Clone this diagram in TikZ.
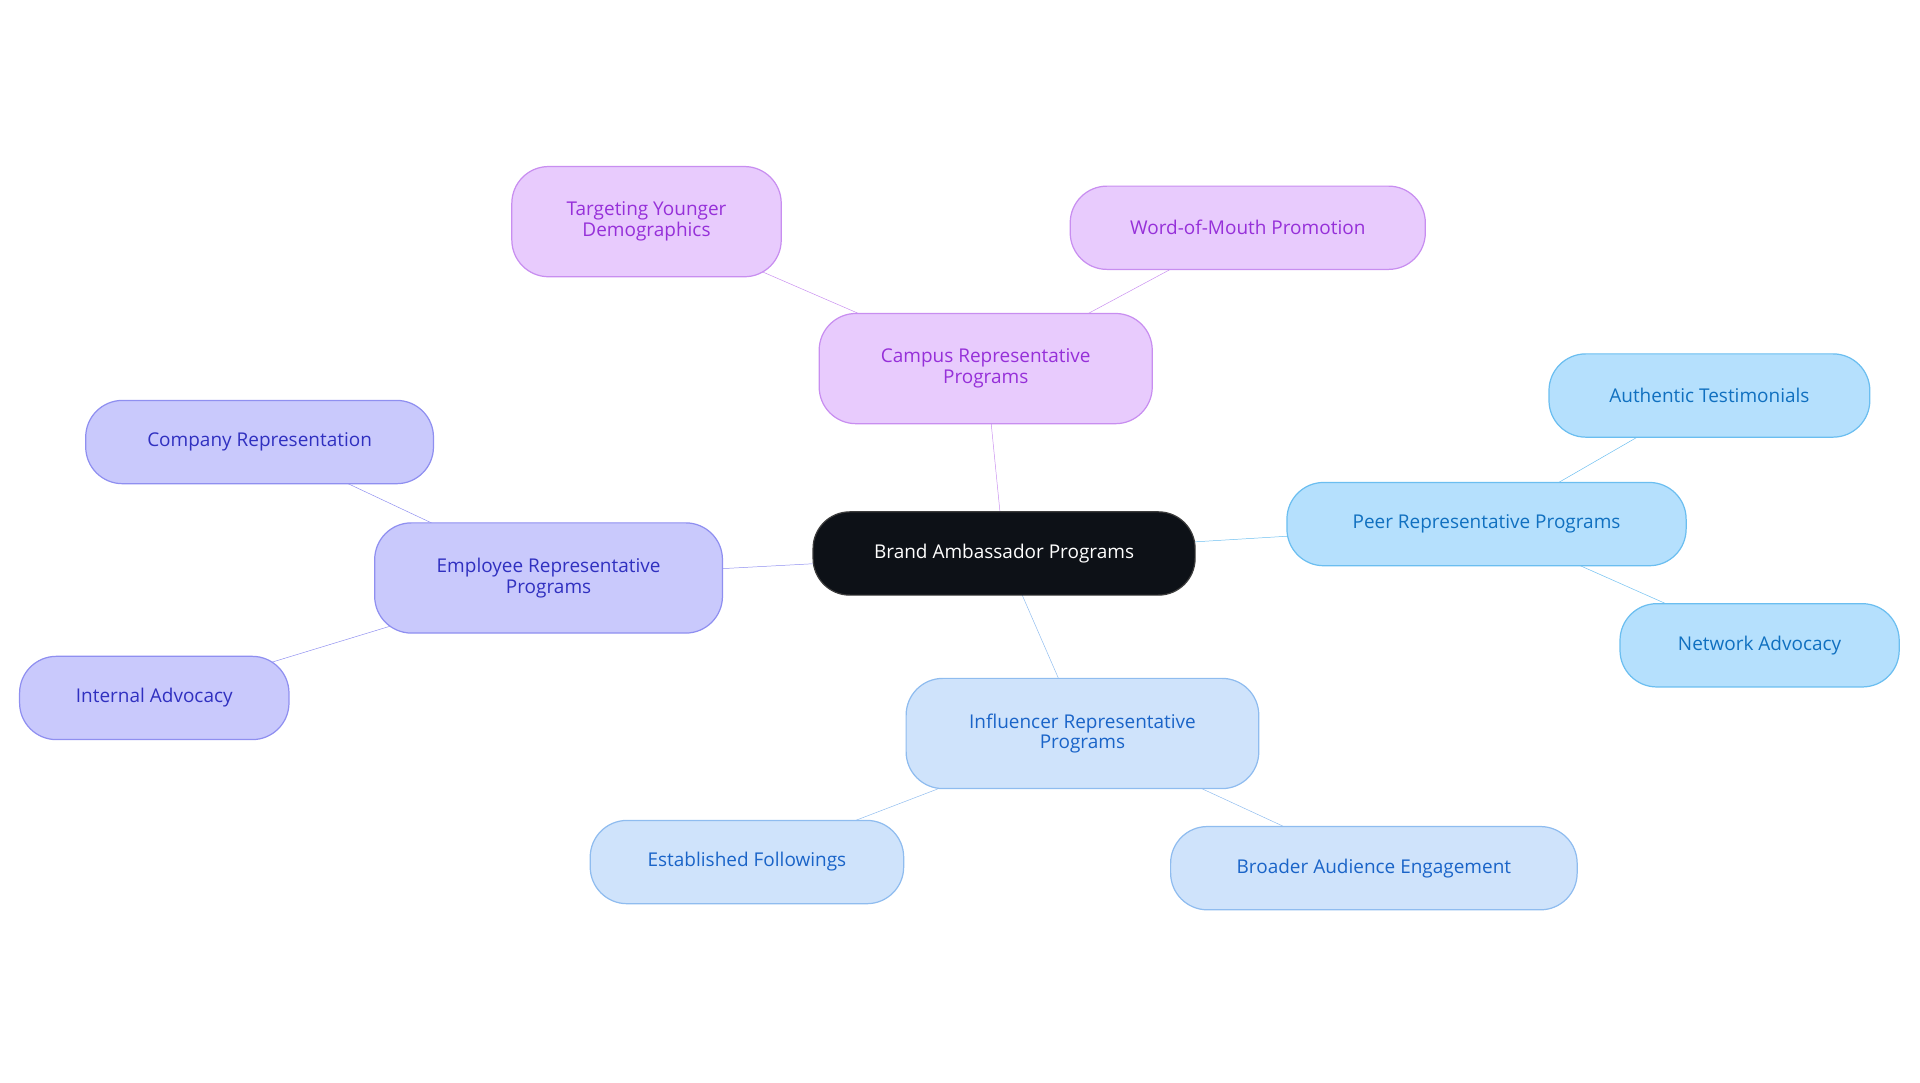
\documentclass[tikz,border=0pt]{standalone}
\usepackage{fontspec}
\setmainfont{Open Sans}
\usetikzlibrary{backgrounds}
\definecolor{pf}{RGB}{232,203,253}\definecolor{pd}{RGB}{200,142,240}\definecolor{pt}{RGB}{150,48,217}
\definecolor{sf}{RGB}{181,224,253}\definecolor{sd}{RGB}{107,190,240}\definecolor{st}{RGB}{16,112,192}
\definecolor{lf}{RGB}{207,227,251}\definecolor{ld}{RGB}{143,188,239}\definecolor{lt}{RGB}{26,100,200}
\definecolor{if}{RGB}{201,201,252}\definecolor{id}{RGB}{143,143,240}\definecolor{it}{RGB}{48,48,192}
\definecolor{cf}{RGB}{13,17,23}\definecolor{cd}{RGB}{60,60,60}
\begin{document}
\begin{tikzpicture}[x=1pt,y=-1pt,
 box/.style={rounded corners=30pt,line width=1pt,align=center,font=\fontsize{15.5}{17}\selectfont,inner sep=0pt},
 pur/.style={box,fill=pf,draw=pd,text=pt},
 sky/.style={box,fill=sf,draw=sd,text=st},
 lbl/.style={box,fill=lf,draw=ld,text=lt},
 ind/.style={box,fill=if,draw=id,text=it},
 e/.style={line width=2.5pt}]
\useasboundingbox (0,0) rectangle (1568,884);
\node[box,fill=cf,draw=cd,text=white,minimum width=312pt,minimum height=68pt] (c) at (820,452) {Brand Ambassador Programs};
\node[pur,minimum width=272pt,minimum height=90pt] (cam) at (805,301) {Campus Representative\\Programs};
\node[pur,minimum width=220pt,minimum height=90pt] (ty) at (528,181) {Targeting Younger\\Demographics};
\node[pur,minimum width=290pt,minimum height=68pt] (wm) at (1019,186) {Word-of-Mouth Promotion};
\node[sky,minimum width=326pt,minimum height=68pt] (peer) at (1214,428) {Peer Representative Programs};
\node[sky,minimum width=262pt,minimum height=68pt] (at) at (1396,323) {Authentic Testimonials};
\node[sky,minimum width=228pt,minimum height=68pt] (na) at (1437,527) {Network Advocacy};
\node[lbl,minimum width=288pt,minimum height=90pt] (inf) at (884,599) {Influencer Representative\\Programs};
\node[lbl,minimum width=256pt,minimum height=68pt] (ef) at (610,704) {Established Followings};
\node[lbl,minimum width=332pt,minimum height=68pt] (ba) at (1122,709) {Broader Audience Engagement};
\node[ind,minimum width=284pt,minimum height=90pt] (emp) at (448,472) {Employee Representative\\Programs};
\node[ind,minimum width=284pt,minimum height=68pt] (cr) at (212,361) {Company Representation};
\node[ind,minimum width=220pt,minimum height=68pt] (ia) at (126,570) {Internal Advocacy};
\begin{scope}[on background layer,e]
\draw[draw=pd] (c.center) -- (cam.center) (cam.center) -- (ty.center) (cam.center) -- (wm.center);
\draw[draw=sd] (c.center) -- (peer.center) (peer.center) -- (at.center) (peer.center) -- (na.center);
\draw[draw=ld] (c.center) -- (inf.center) (inf.center) -- (ef.center) (inf.center) -- (ba.center);
\draw[draw=id] (c.center) -- (emp.center) (emp.center) -- (cr.center) (emp.center) -- (ia.center);
\end{scope}
\end{tikzpicture}
\end{document}
